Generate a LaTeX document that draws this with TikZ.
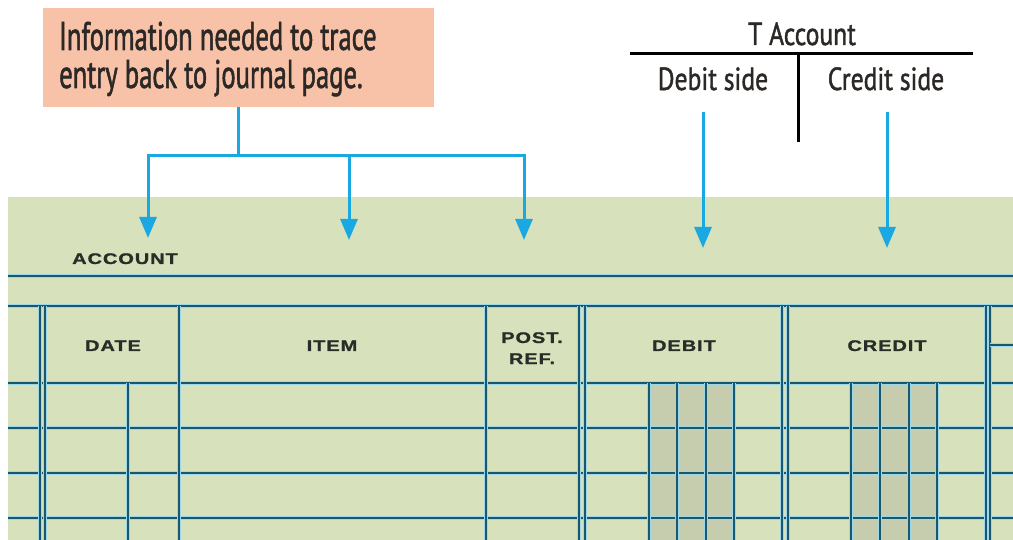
\documentclass[tikz,border=0pt]{standalone}
\usepackage{fontspec}
\usetikzlibrary{arrows.meta}
\newfontfamily\condfont[FakeStretch=0.665,FakeBold=1.3]{PT Sans}
\newfontfamily\tfont[FakeStretch=0.80,FakeBold=1.3]{PT Sans}
\newfontfamily\headfont[FakeStretch=1.3,LetterSpace=6,FakeBold=1.2]{Liberation Sans}
\definecolor{pinkbox}{HTML}{F8C2A8}
\definecolor{panelgreen}{HTML}{D7E2BC}
\definecolor{arrowblue}{HTML}{1AA8E2}
\definecolor{ruling}{HTML}{1A566C}
\definecolor{halo}{HTML}{9CD8E8}
\definecolor{shadecol}{HTML}{C6CDAF}
\definecolor{ink}{HTML}{2B2826}
\definecolor{headink}{HTML}{2A2C27}
\tikzset{
  notebox/.style={fill=pinkbox, draw=none, minimum width=391pt, minimum height=99pt, inner sep=0pt},
  bigtext/.style={font=\condfont\fontsize{40}{40}\selectfont, text=ink, inner sep=0pt},
  ttext/.style={font=\tfont\fontsize{32}{32}\selectfont, text=ink, inner sep=0pt},
  headtext/.style={font=\headfont\bfseries\fontsize{15.4}{15.4}\selectfont, text=headink, inner sep=0pt},
  bluearrow/.style={draw=arrowblue, line width=3pt, -{Triangle[width=17pt,length=21pt]}},
  blueline/.style={draw=arrowblue, line width=3pt},
  tline/.style={draw=black, line width=3pt},
  rule/.style={draw=ruling, line width=1.6pt, preaction={draw=halo, line width=3.2pt}},
}
\begin{document}
\begin{tikzpicture}[x=1pt,y=-1pt]
\useasboundingbox (0,0) rectangle (1013,540);
\fill[white] (0,0) rectangle (1013,540);
% ledger panel
\fill[panelgreen] (8,197) rectangle (1013,540);
\fill[shadecol] (649,383) rectangle (734,540);
\fill[shadecol] (851,383) rectangle (937,540);
% horizontal rulings
\foreach \yy in {276,306,383,428,473,518}
  \draw[rule] (8,\yy) -- (1013,\yy);
% vertical rulings
\foreach \xx in {40,45,179,486,579,585,782,788,986,990}
  \draw[rule] (\xx,306) -- (\xx,540);
\foreach \xx in {128,649,677,706,734,851,880,909,937}
  \draw[rule] (\xx,383) -- (\xx,540);
\draw[rule] (990,345) -- (1013,345);
% headings
\node[headtext, anchor=base west] (account) at (72,264) {ACCOUNT};
\node[headtext, anchor=base] (date) at (113,351) {DATE};
\node[headtext, anchor=base] (item) at (332,351) {ITEM};
\node[headtext, anchor=base] (post) at (532,343) {POST.};
\node[headtext, anchor=base] (ref) at (532,364) {REF.};
\node[headtext, anchor=base] (debit) at (684,351) {DEBIT};
\node[headtext, anchor=base] (credit) at (887,351) {CREDIT};
% info box
\node[notebox] (info) at (238.5,57.5) {};
\node[bigtext, anchor=base west] (infoA) at (59,50) {Information needed to trace};
\node[bigtext, anchor=base west] (infoB) at (59,88) {entry back to journal page.};
% T account
\node[ttext, anchor=base] (tacc) at (802,45) {T Account};
\node[ttext, anchor=base] (dside) at (713,90) {Debit side};
\node[ttext, anchor=base] (cside) at (886,90) {Credit side};
\coordinate (tL) at (630,54);
\coordinate (tR) at (973,54);
\coordinate (tTop) at (798,54);
\coordinate (tBot) at (798,142);
\draw[tline] (tL) -- (tR);
\draw[tline] (tTop) -- (tBot);
% arrows from info box
\coordinate (junc) at (238.5,156);
\coordinate (tipA) at (148,238);
\coordinate (tipB) at (349,240);
\coordinate (tipC) at (524,240);
\draw[blueline] (info.south) -- (junc);
\draw[bluearrow] (junc) -| (tipA);
\draw[bluearrow] (junc) -| (tipC);
\draw[bluearrow] (tipB |- junc) -- (tipB);
% debit / credit arrows
\coordinate (dStart) at (703,112);
\coordinate (dTip) at (703,248);
\coordinate (cStart) at (887,112);
\coordinate (cTip) at (887,248);
\draw[bluearrow] (dStart) -- (dTip);
\draw[bluearrow] (cStart) -- (cTip);
\end{tikzpicture}
\end{document}
